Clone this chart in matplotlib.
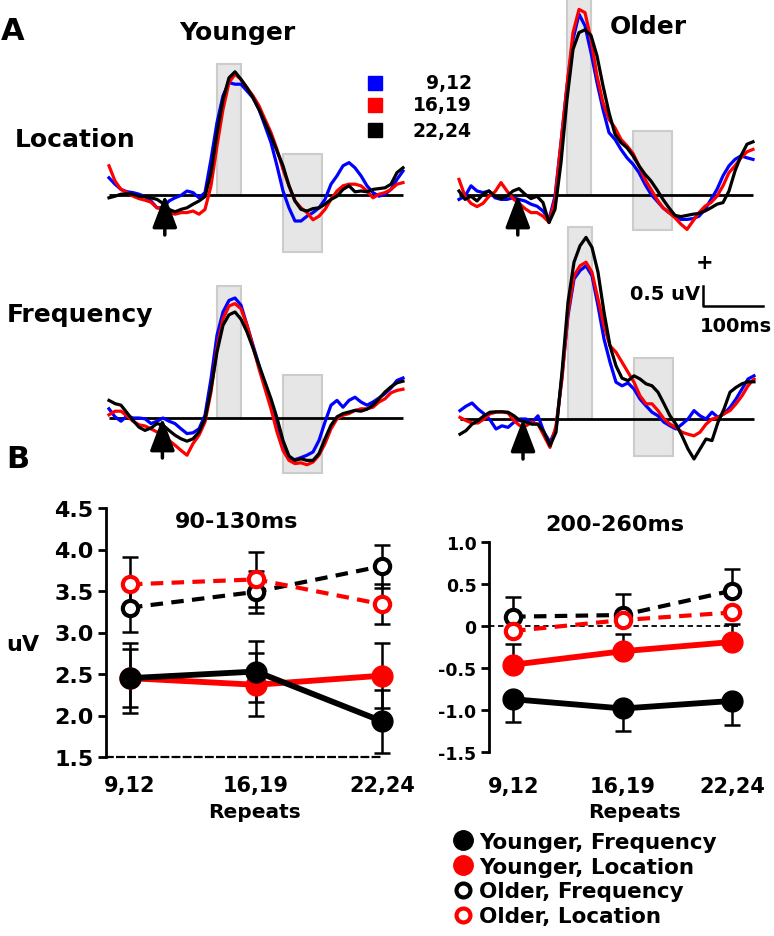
import numpy as np
import matplotlib
matplotlib.use('Agg')
import matplotlib.pyplot as plt
from matplotlib.patches import Rectangle
from matplotlib.lines import Line2D

plt.rcParams['font.family'] = 'DejaVu Sans'
plt.rcParams['font.weight'] = 'bold'

# ---------------- panel A: averaged waveforms (uV), one sample every 10 ms ----------------
t = np.arange(-90, 401, 10)

yl_blue = [0.43, 0.27, 0.14, 0.08, 0.06, 0.02, -0.04, -0.15, -0.32, -0.32,
           -0.15, -0.07, -0.01, 0.10, 0.06, -0.07, 0.06, 0.89, 1.81, 2.48,
           2.81, 2.77, 2.77, 2.60, 2.43, 2.14, 1.73, 1.31, 0.73, 0.10,
           -0.32, -0.65, -0.65, -0.53, -0.44, -0.32, -0.11, 0.27, 0.48, 0.73,
           0.81, 0.68, 0.48, 0.23, 0.06, -0.03, 0.02, 0.14, 0.39, 0.60]
yl_red = [0.73, 0.35, 0.14, 0.06, -0.03, -0.09, -0.13, -0.18, -0.32, -0.34,
          -0.44, -0.48, -0.44, -0.44, -0.40, -0.48, -0.36, 0.23, 1.23, 2.14,
          2.81, 3.02, 2.89, 2.68, 2.48, 2.23, 1.89, 1.56, 1.14, 0.64,
          0.23, -0.15, -0.32, -0.44, -0.62, -0.53, -0.36, -0.11, 0.10, 0.23,
          0.27, 0.27, 0.23, 0.10, -0.07, 0.02, 0.06, 0.14, 0.27, 0.31]
yl_black = [-0.07, -0.03, 0.02, 0.03, 0.02, -0.03, -0.04, -0.07, -0.11, -0.21,
            -0.36, -0.42, -0.36, -0.32, -0.23, -0.15, -0.04, 0.56, 1.56, 2.39,
            2.93, 3.08, 2.89, 2.68, 2.43, 2.14, 1.81, 1.48, 1.10, 0.73,
            0.23, -0.15, -0.36, -0.40, -0.34, -0.32, -0.23, -0.11, -0.03, 0.14,
            0.23, 0.08, 0.10, 0.08, 0.14, 0.16, 0.18, 0.27, 0.56, 0.68]

ol_blue = [-0.11, -0.03, 0.23, 0.10, 0.06, 0.10, -0.07, -0.11, -0.11, -0.07,
           -0.11, -0.15, -0.23, -0.28, -0.40, -0.61, -0.03, 1.31, 2.73, 3.89,
           4.52, 4.23, 3.56, 2.81, 2.14, 1.56, 1.39, 1.14, 0.93, 0.77,
           0.56, 0.27, 0.02, -0.15, -0.32, -0.44, -0.53, -0.61, -0.61, -0.59,
           -0.53, -0.36, -0.11, 0.14, 0.48, 0.73, 0.89, 0.98, 0.93, 0.89]
ol_red = [0.39, -0.03, -0.21, -0.29, -0.21, -0.03, 0.08, 0.31, 0.10, -0.09,
          -0.21, -0.34, -0.44, -0.44, -0.53, -0.68, -0.11, 1.31, 2.73, 4.06,
          4.64, 4.56, 3.89, 2.98, 2.31, 1.89, 1.68, 1.39, 1.23, 1.04,
          0.73, 0.39, 0.14, -0.11, -0.32, -0.44, -0.57, -0.73, -0.86, -0.65,
          -0.44, -0.28, -0.19, -0.03, 0.23, 0.56, 0.73, 0.93, 1.08, 1.14]
ol_black = [0.10, -0.11, -0.03, -0.15, 0.02, 0.10, -0.03, -0.09, -0.03, 0.10,
            0.16, 0.02, -0.09, -0.03, -0.19, -0.69, -0.36, 0.81, 2.39, 3.64,
            4.06, 4.13, 3.99, 3.48, 2.73, 2.06, 1.52, 1.31, 1.18, 0.98,
            0.73, 0.52, 0.35, 0.13, -0.11, -0.32, -0.51, -0.54, -0.51, -0.48,
            -0.46, -0.40, -0.32, -0.23, -0.19, 0.10, 0.60, 0.98, 1.27, 1.33]

yf_blue = [0.23, 0.03, -0.08, 0.05, 0.00, 0.00, -0.02, -0.14, -0.08, 0.00,
           -0.08, -0.14, -0.27, -0.39, -0.37, -0.27, 0.07, 0.98, 2.07, 2.65,
           2.94, 3.00, 2.82, 2.32, 1.82, 1.32, 0.82, 0.32, -0.27, -0.77,
           -1.02, -1.04, -0.99, -0.93, -0.85, -0.56, -0.10, 0.32, 0.44, 0.27,
           0.44, 0.52, 0.40, 0.32, 0.40, 0.50, 0.61, 0.75, 0.94, 1.00]
yf_red = [0.08, 0.17, 0.17, 0.05, -0.08, -0.17, -0.20, -0.27, -0.35, -0.43,
          -0.56, -0.68, -0.81, -0.93, -0.64, -0.43, -0.10, 0.65, 1.75, 2.48,
          2.80, 2.86, 2.73, 2.32, 1.78, 1.23, 0.73, 0.23, -0.35, -0.81,
          -1.06, -1.14, -1.12, -1.17, -1.10, -0.93, -0.64, -0.27, -0.02, 0.07,
          0.11, 0.19, 0.23, 0.23, 0.27, 0.40, 0.48, 0.63, 0.69, 0.72]
yf_black = [0.44, 0.36, 0.32, 0.13, -0.06, -0.23, -0.31, -0.25, -0.14, -0.18,
            -0.31, -0.43, -0.52, -0.58, -0.52, -0.35, -0.02, 0.73, 1.65, 2.32,
            2.58, 2.65, 2.47, 2.15, 1.75, 1.32, 0.90, 0.48, 0.00, -0.56,
            -0.95, -1.06, -1.02, -1.06, -1.06, -0.89, -0.52, -0.18, 0.03, 0.11,
            0.15, 0.19, 0.17, 0.22, 0.32, 0.48, 0.65, 0.78, 0.88, 0.92]

of_blue = [0.21, 0.32, 0.40, 0.25, 0.13, -0.02, -0.25, -0.17, -0.21, -0.08,
           0.00, 0.00, -0.08, 0.08, -0.33, -0.58, -0.25, 1.08, 2.58, 3.50,
           3.71, 3.83, 3.58, 2.83, 2.00, 1.42, 0.92, 0.83, 0.90, 0.75,
           0.50, 0.33, 0.17, 0.08, -0.08, -0.17, -0.25, -0.13, 0.00, 0.21,
           0.08, 0.00, 0.17, 0.04, 0.13, 0.29, 0.50, 0.75, 1.00, 1.08]
of_red = [0.04, -0.04, -0.10, -0.10, 0.00, 0.13, 0.17, 0.18, 0.15, -0.04,
          -0.17, -0.17, -0.08, -0.13, -0.42, -0.71, -0.17, 1.00, 2.67, 3.58,
          3.83, 3.92, 3.67, 3.00, 2.33, 1.83, 1.67, 1.42, 1.17, 0.92,
          0.58, 0.38, 0.38, 0.21, 0.00, -0.13, -0.21, -0.33, -0.38, -0.42,
          -0.33, -0.13, 0.00, 0.04, 0.13, 0.21, 0.38, 0.58, 0.83, 1.00]
of_black = [-0.38, -0.29, -0.13, -0.04, 0.08, 0.17, 0.18, 0.18, 0.17, 0.08,
            -0.04, -0.08, -0.13, -0.13, -0.33, -0.67, -0.33, 1.17, 2.92, 3.92,
            4.33, 4.54, 4.29, 3.67, 2.67, 1.83, 1.33, 1.02, 0.96, 1.08,
            1.00, 0.88, 0.83, 0.67, 0.38, 0.08, -0.13, -0.42, -0.75, -1.00,
            -0.75, -0.50, -0.54, -0.08, 0.25, 0.67, 0.79, 0.88, 0.93, 0.93]

# measurement windows (ms) and the extent of the gray boxes (uV) per panel
windows = [(90, 130), (200, 265)]
yl_boxes = [(0.0, 3.28), (-1.43, 1.02)]
ol_boxes = [(0.0, 4.90), (-0.88, 1.60)]
yf_boxes = [(0.0, 3.30), (-1.38, 1.08)]
of_boxes = [(0.0, 4.80), (-0.93, 1.53)]
stim_times = [3, 8, -1, 15]

repeat_labels = ['9,12', '16,19', '22,24']
trace_colors = ['#0000ff', '#ff0000', '#000000']

# ---------------- panel B: mean amplitudes (uV) ----------------
repeats = [1, 2, 3]
early_young_freq = [2.45, 2.53, 1.93]
early_young_freq_err = [0.42, 0.37, 0.38]
early_young_loc = [2.45, 2.37, 2.48]
early_young_loc_err = [0.35, 0.38, 0.39]
early_old_freq = [3.30, 3.49, 3.80]
early_old_freq_err = [0.29, 0.25, 0.26]
early_old_loc = [3.58, 3.64, 3.34]
early_old_loc_err = [0.33, 0.33, 0.24]

late_young_freq = [-0.87, -0.98, -0.89]
late_young_freq_err = [0.27, 0.27, 0.29]   # shown below only
late_young_loc = [-0.46, -0.30, -0.19]
late_young_loc_err = [0.25, 0.20, 0.21]    # shown above only
late_old_freq = [0.11, 0.13, 0.42]
late_old_freq_err = [0.23, 0.25, 0.26]     # shown above only
late_old_loc = [-0.06, 0.07, 0.16]

W, H = 774, 937
fig = plt.figure(figsize=(W / 100, H / 100), dpi=100)


def box(x0, y0, x1, y1):
    # pixel box (top-left origin) -> figure fraction rect
    return [x0 / W, 1 - y1 / H, (x1 - x0) / W, (y1 - y0) / H]


def ftext(x, y, s, **kw):
    fig.text(x / W, 1 - y / H, s, fontweight='bold', **kw)


SX, SY = 0.6, 40.0          # px per ms, px per uV
T_LIM, V_LIM = (-100, 410), (-1.7, 5.0)


def wave_axes(t0, base):
    left, right = t0 + SX * T_LIM[0], t0 + SX * T_LIM[1]
    top, bottom = base - SY * V_LIM[1], base - SY * V_LIM[0]
    ax = fig.add_axes(box(left, top, right, bottom))
    ax.set_xlim(T_LIM)
    ax.set_ylim(V_LIM)
    ax.axis('off')
    return ax


panels = [
    (163, 196, [yl_blue, yl_red, yl_black], yl_boxes, stim_times[0]),
    (513, 196, [ol_blue, ol_red, ol_black], ol_boxes, stim_times[1]),
    (163, 419, [yf_blue, yf_red, yf_black], yf_boxes, stim_times[2]),
    (514, 420, [of_blue, of_red, of_black], of_boxes, stim_times[3]),
]

wave_ax = []
for t0, base, traces, boxes, stim in panels:
    ax = wave_axes(t0, base)
    for (w0, w1), (lo, hi) in zip(windows, boxes):
        ax.add_patch(Rectangle((w0, lo), w1 - w0, hi - lo, facecolor='#e6e6e6',
                               edgecolor='#cccccc', lw=1.5, zorder=0))
    ax.hlines(0, t[0], t[-1], color='k', lw=2, zorder=1)
    for y, c in zip(traces, trace_colors):
        ax.plot(t, y, color=c, lw=2.3, zorder=2, clip_on=False)
    ax.annotate('', xy=(stim, 0), xytext=(stim, -1.0),
                arrowprops=dict(arrowstyle='-|>,head_length=1.0,head_width=0.38',
                                mutation_scale=20, color='k', lw=2.5,
                                shrinkA=0, shrinkB=0), zorder=5)
    wave_ax.append(ax)

# scale bar in the older / frequency panel
sb_t, sb_v = 315, 2.83
wave_ax[3].plot([sb_t, sb_t, sb_t + 100], [sb_v + 0.5, sb_v, sb_v], color='k', lw=1.8,
                clip_on=False)
ftext(705, 263, '+', fontsize=15, ha='center', va='center')
ftext(700, 294, '0.5 uV', fontsize=14, ha='right', va='center')
ftext(700, 326, '100ms', fontsize=14, ha='left', va='center')

# panel A labels
ftext(13, 31, 'A', fontsize=22, ha='center', va='center')
ftext(237, 33, 'Younger', fontsize=18, ha='center', va='center')
ftext(648, 27, 'Older', fontsize=18, ha='center', va='center')
ftext(15, 140, 'Location', fontsize=18, ha='left', va='center')
ftext(7, 315, 'Frequency', fontsize=18, ha='left', va='center')

# colour key for repeats
for c, lab, yk in zip(trace_colors, repeat_labels, [84, 106, 131]):
    fig.add_artist(Line2D([375 / W], [1 - yk / H], marker='s', ms=10, color=c,
                          transform=fig.transFigure))
    ftext(472, yk, lab, fontsize=13.5, ha='right', va='center')

# ---------------- panel B ----------------
ftext(18, 459, 'B', fontsize=22, ha='center', va='center')

ebkw = dict(fmt='none', ecolor='k', elinewidth=1.8, capsize=6, capthick=1.8, zorder=2)
solid_kw = dict(lw=4.2, marker='o', ms=15, zorder=4, clip_on=False)
open_kw = dict(lw=3, ls=(0, (3, 2)), marker='o', ms=11, mew=3, mfc='white',
               zorder=3, clip_on=False)

# 90-130 ms
ax1 = fig.add_axes(box(106, 509, 401, 758))
ax1.errorbar(repeats, early_young_freq, yerr=early_young_freq_err, **ebkw)
ax1.errorbar(repeats, early_young_loc, yerr=early_young_loc_err, **ebkw)
ax1.errorbar(repeats, early_old_freq, yerr=early_old_freq_err, **ebkw)
ax1.errorbar(repeats, early_old_loc, yerr=early_old_loc_err, **ebkw)
ax1.plot(repeats, early_old_freq, color='k', mec='k', **open_kw)
ax1.plot(repeats, early_old_loc, color='#ff0000', mec='#ff0000', **open_kw)
ax1.plot(repeats, early_young_loc, color='#ff0000', **solid_kw)
ax1.plot(repeats, early_young_freq, color='k', **solid_kw)
ax1.set_xlim(0.81, 3.15)
ax1.set_ylim(1.5, 4.5)
ax1.set_yticks([1.5, 2.0, 2.5, 3.0, 3.5, 4.0, 4.5])
ax1.set_yticklabels(['1.5', '2.0', '2.5', '3.0', '3.5', '4.0', '4.5'])
ax1.spines['bottom'].set_bounds(0.81, 3.0)
ax1.spines['bottom'].set_linestyle((0, (3, 2)))
ax1.spines['bottom'].set_linewidth(1.6)
ax1.tick_params(axis='y', labelsize=16, width=2, length=6, pad=3)
ax1.tick_params(axis='x', labelsize=15, length=0, pad=13)

# 200-260 ms
ax2 = fig.add_axes(box(489, 542.7, 750, 753.3))
ax2.set_xlim(0.78, 3.16)
ax2.hlines(0, 0.78, 3.05, color='k', lw=1.3, ls=(0, (3, 2)), zorder=1)
ax2.errorbar(repeats, late_young_freq, yerr=[late_young_freq_err, [0, 0, 0]], **ebkw)
ax2.errorbar(repeats, late_young_loc, yerr=[[0, 0, 0], late_young_loc_err], **ebkw)
ax2.errorbar(repeats, late_old_freq, yerr=[[0, 0, 0], late_old_freq_err], **ebkw)
ax2.plot(repeats, late_old_freq, color='k', mec='k', **open_kw)
ax2.plot(repeats, late_old_loc, color='#ff0000', mec='#ff0000', **open_kw)
ax2.plot(repeats, late_young_loc, color='#ff0000', **solid_kw)
ax2.plot(repeats, late_young_freq, color='k', **solid_kw)
ax2.set_ylim(-1.5, 1.0)
ax2.set_yticks([1.0, 0.5, 0, -0.5, -1.0, -1.5])
ax2.set_yticklabels(['1.0', '0.5', '0', '-0.5', '-1.0', '-1.5'])
ax2.spines['bottom'].set_visible(False)
ax2.tick_params(axis='y', labelsize=12.5, width=2, length=6, pad=3)
ax2.tick_params(axis='x', labelsize=15, length=0, pad=17)

for ax in (ax1, ax2):
    ax.set_xticks(repeats)
    ax.set_xticklabels(repeat_labels, fontweight='bold')
    for lab in ax.get_yticklabels():
        lab.set_fontweight('bold')
    ax.spines['top'].set_visible(False)
    ax.spines['right'].set_visible(False)
    ax.spines['left'].set_linewidth(2)
    ax.patch.set_alpha(0)

ftext(237, 522, '90-130ms', fontsize=16, ha='center', va='center')
ftext(615, 525, '200-260ms', fontsize=16, ha='center', va='center')
ftext(23, 645, 'uV', fontsize=16, ha='center', va='center')
ftext(255, 813, 'Repeats', fontsize=14.5, ha='center', va='center')
ftext(635, 813, 'Repeats', fontsize=14.5, ha='center', va='center')

handles = [
    Line2D([], [], ls='none', marker='o', ms=14, color='k'),
    Line2D([], [], ls='none', marker='o', ms=14, color='#ff0000'),
    Line2D([], [], ls='none', marker='o', ms=10, mew=3, mec='k', mfc='white'),
    Line2D([], [], ls='none', marker='o', ms=10, mew=3, mec='#ff0000', mfc='white'),
]
labels = ['Younger, Frequency', 'Younger, Location', 'Older, Frequency', 'Older, Location']
fig.legend(handles, labels, loc='upper left', bbox_to_anchor=(452 / W, 1 - 833 / H),
           frameon=False, borderpad=0, borderaxespad=0, handlelength=1.0,
           handletextpad=0.25, labelspacing=0.22, prop=dict(size=15.5, weight='bold'))

fig.savefig('out.png', dpi=100)
